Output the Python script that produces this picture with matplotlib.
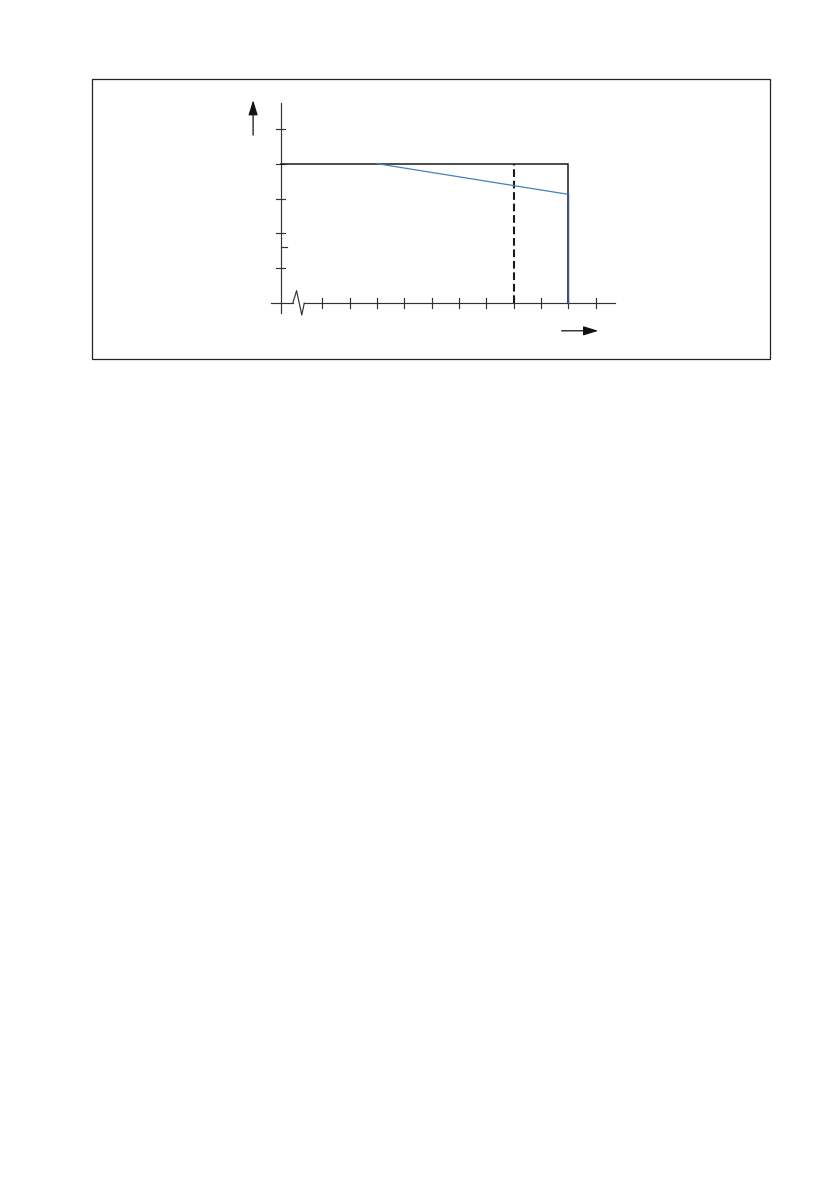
import matplotlib
matplotlib.use('Agg')
import matplotlib.pyplot as plt
from matplotlib.patches import Rectangle

# tick positions along the axes (no labels in the original figure)
x_ticks     = [0, 1, 2, 3, 4, 5, 6, 7, 8, 9, 10]
y_ticks     = [1, 2, 3, 4, 5]
y_minor     = [1.6]

# rated envelope (black box) and derated curve (blue)
limit_x     = 9
limit_y     = 4
derate_x    = [2, 9, 9]
derate_y    = [4, 3.12, 0]
marker_x    = 7          # dashed line position

# axis extents
y_axis_x    = -1.52
x_axis_span = [-1.88, 10.7]
y_axis_span = [-0.28, 5.74]

# axis break zigzag on the x axis
break_x     = [-1.08, -0.94, -0.75, -0.66]
break_y     = [0, 0.36, -0.335, 0]

# direction arrows next to the axes
y_arrow_x   = -2.53
y_arrow     = [4.82, 5.82]
x_arrow_y   = -0.79
x_arrow     = [8.75, 10.09]

W, H = 839, 1191
fig = plt.figure(figsize=(W / 100, H / 100), dpi=100)
ax = fig.add_axes([0, 0, 1, 1])
ax.set_xlim(-11.784, 18.892)
ax.set_ylim(-25.44, 8.69)
ax.axis('off')

# outer frame around the figure
fig.add_artist(Rectangle((91.7 / W, 1 - 359 / H), (770.3 - 91.7) / W, (359 - 79) / H,
                         transform=fig.transFigure, fill=False,
                         edgecolor='#222222', linewidth=0.9))

axis_col = '#333333'
lw_axis = 0.85

# y axis
ax.plot([y_axis_x, y_axis_x], y_axis_span, color=axis_col, lw=lw_axis)
# x axis, interrupted by the break symbol
ax.plot([x_axis_span[0], break_x[0]], [0, 0], color=axis_col, lw=lw_axis)
ax.plot(break_x, break_y, color=axis_col, lw=lw_axis)
ax.plot([break_x[-1], x_axis_span[1]], [0, 0], color=axis_col, lw=lw_axis)

# ticks
for t in x_ticks:
    ax.plot([t, t], [-0.143, 0.143], color=axis_col, lw=lw_axis)
for t in y_ticks:
    ax.plot([y_axis_x - 0.165, y_axis_x + 0.165], [t, t], color=axis_col, lw=lw_axis)
for t in y_minor:
    ax.plot([y_axis_x, y_axis_x + 0.22], [t, t], color=axis_col, lw=lw_axis)

# black envelope
ax.plot([y_axis_x, limit_x, limit_x], [limit_y, limit_y, 0],
        color='#1a1a1a', lw=1.1, solid_joinstyle='miter')

# dashed marker
ax.plot([marker_x, marker_x], [0, limit_y], color='#1a1a1a', lw=1.5,
        dashes=(3.7, 1.8))

# derated curve
ax.plot(derate_x[:2], derate_y[:2], color='#4a80b8', lw=0.9)
ax.plot(derate_x[1:], derate_y[1:], color='#34568a', lw=1.0)

# arrows
arrow_props = dict(arrowstyle='-|>,head_length=0.9,head_width=0.28',
                   color='#111111', lw=0.9, shrinkA=0, shrinkB=0)
ax.annotate('', xy=(y_arrow_x, y_arrow[1]), xytext=(y_arrow_x, y_arrow[0]),
            arrowprops=arrow_props)
ax.annotate('', xy=(x_arrow[1], x_arrow_y), xytext=(x_arrow[0], x_arrow_y),
            arrowprops=arrow_props)

fig.savefig('out.png', dpi=100, facecolor='white')
